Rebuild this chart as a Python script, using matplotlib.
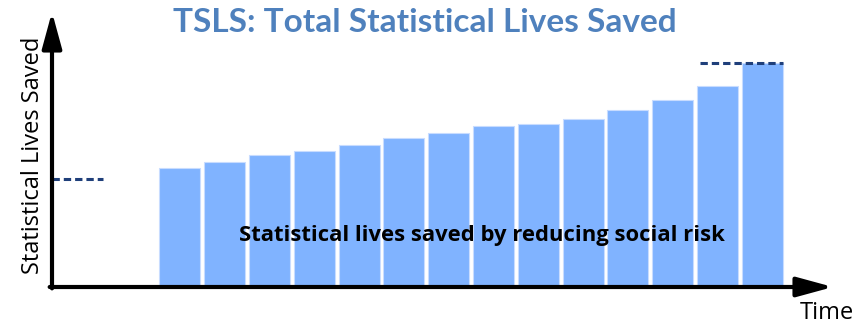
import numpy as np
import matplotlib.pyplot as plt

# bar heights (arbitrary units)
lives_saved = [119, 125, 132, 136, 142, 149, 154, 161, 163, 168, 177, 187, 201, 224]
start_level = 108
end_level = 224

title = "TSLS: Total Statistical Lives Saved"
inner_text = "Statistical lives saved by reducing social risk"

bar_color = "#80B3FF"
dash_color = "#1F3F7A"

fig = plt.figure(figsize=(8.63, 3.28), dpi=100)
W, H = 863, 328
ax = fig.add_axes([52 / W, (H - 287) / H, 781 / W, 275 / H])

x = np.arange(len(lives_saved))
ax.bar(x, lives_saved, width=0.915, color=bar_color, edgecolor="#C8DCFF",
       linewidth=0.8, zorder=2)

ax.set_xlim(-2.857, 14.576)
ax.set_ylim(0, 275)

# dashed reference levels
ax.plot([-2.857, -1.72], [start_level, start_level], ls=(0, (2.4, 1.3)),
        color=dash_color, lw=2.2, zorder=3)
ax.plot([11.6, 13.46], [end_level, end_level], ls=(0, (2.4, 1.3)),
        color=dash_color, lw=2.2, zorder=3)

for s in ax.spines.values():
    s.set_visible(False)
ax.set_xticks([])
ax.set_yticks([])

# axis arrows
ax.annotate("", xy=(0, 1.0), xytext=(0, -0.005), xycoords="axes fraction",
            arrowprops=dict(arrowstyle="-|>,head_length=2.2,head_width=0.6",
                            color="black", lw=3, shrinkA=0, shrinkB=0),
            annotation_clip=False)
ax.annotate("", xy=(1.0, 0), xytext=(-0.003, 0), xycoords="axes fraction",
            arrowprops=dict(arrowstyle="-|>,head_length=2.2,head_width=0.6",
                            color="black", lw=3, shrinkA=0, shrinkB=0),
            annotation_clip=False)

fig.text(425 / W, 1 - 23 / H, title, ha="center", va="center",
         fontsize=24, fontweight="bold", color="#4F81BD", family="Lato")
fig.text(482 / W, 1 - 236 / H, inner_text, ha="center", va="center",
         fontsize=15.8, fontweight="bold", color="black", family="Open Sans")
fig.text(33 / W, 1 - 155 / H, "Statistical Lives Saved", ha="center", va="center",
         rotation=90, fontsize=17, color="black", family="Open Sans")
fig.text(827 / W, 1 - 313 / H, "Time", ha="center", va="center",
         fontsize=17, color="black", family="Open Sans")

fig.savefig("out.png", dpi=100)
